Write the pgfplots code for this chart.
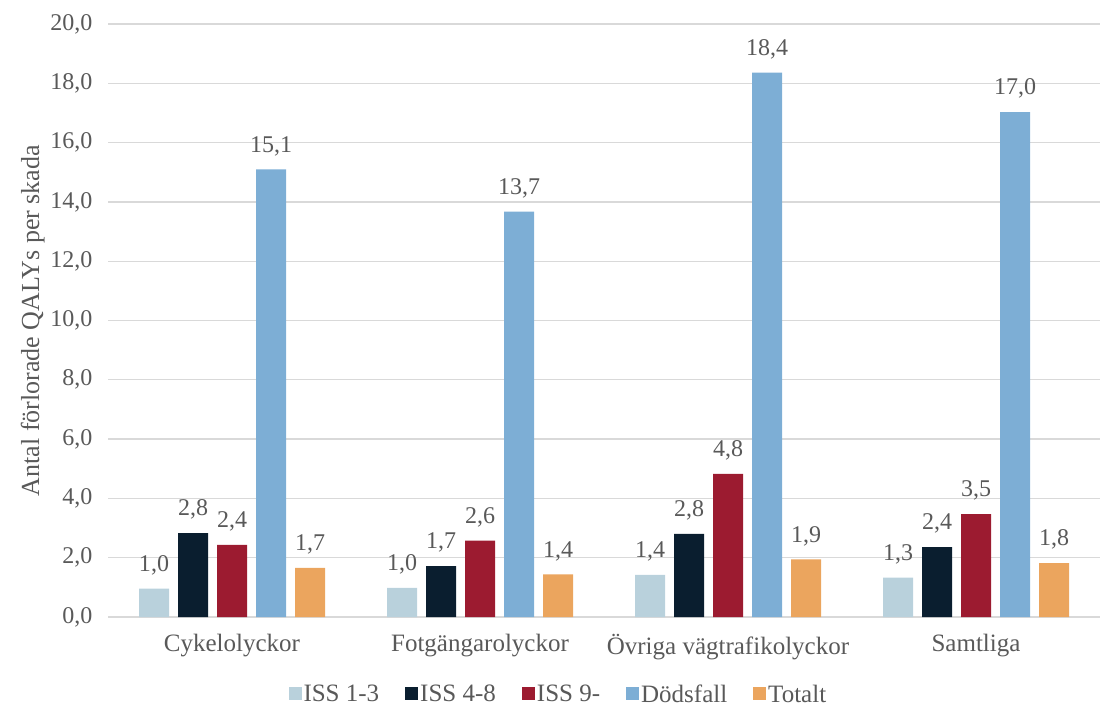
\documentclass[border=0pt]{standalone}
\usepackage{fontspec}
\setmainfont{Liberation Serif}
\usepackage{pgfplots}
\pgfplotsset{compat=1.18}
\definecolor{issA}{HTML}{B9D1DC}
\definecolor{issB}{HTML}{0A1E2F}
\definecolor{issC}{HTML}{9C1B30}
\definecolor{dod}{HTML}{7DAED5}
\definecolor{tot}{HTML}{EBA55E}
\definecolor{txt}{HTML}{595959}
\definecolor{grd}{HTML}{D9D9D9}
\begin{document}
\begin{tikzpicture}
\begin{axis}[
    scale only axis,
    width=992pt, height=593pt,
    ybar=9pt, bar width=30pt,
    xmin=-0.5, xmax=3.5,
    ymin=0, ymax=20,
    ytick distance=2,
    xtick={0,1,2,3},
    xticklabels={Cykelolyckor,Fotgängarolyckor,Övriga vägtrafikolyckor,Samtliga},
    major tick length=0pt,
    axis line style={draw=none},
    ymajorgrids=true,
    grid style={grd, line width=1.3pt},
    /pgf/number format/assume math mode=true,
    /pgf/number format/.cd, fixed, fixed zerofill, precision=1, use comma,
    /pgfplots/.cd,
    ticklabel style={font=\fontsize{24}{28}\selectfont, text=txt},
    yticklabel style={xshift=-12pt},
    xticklabel style={yshift=-14pt, font=\fontsize{25}{28}\selectfont},
    ylabel={Antal förlorade QALYs per skada},
    ylabel style={font=\fontsize{26}{30}\selectfont, text=txt, yshift=-1pt},
    nodes near coords,
    nodes near coords style={font=\fontsize{24}{28}\selectfont, text=txt, yshift=10pt,
        /pgf/number format/.cd, fixed, fixed zerofill, precision=1, use comma, assume math mode=true},
    legend columns=5,
    legend style={at={(0.454,-0.13)}, anchor=center, draw=none,
        font=\fontsize{25}{28}\selectfont, text=txt,
        /tikz/every even column/.append style={column sep=24pt}},
    legend image code/.code={\fill[#1] (0pt,-6pt) rectangle (13pt,7pt);},
]
\addplot[fill=issA, draw=none] coordinates {(0,0.96) (1,0.98) (2,1.42) (3,1.33)};
\addlegendentry{ISS 1-3}
\addplot[fill=issB, draw=none] coordinates {(0,2.83) (1,1.72) (2,2.80) (3,2.36)};
\addlegendentry{ISS 4-8}
\addplot[fill=issC, draw=none] coordinates {(0,2.43) (1,2.58) (2,4.83) (3,3.47)};
\addlegendentry{ISS 9-}
\addplot[fill=dod, draw=none] coordinates {(0,15.10) (1,13.67) (2,18.36) (3,17.03)};
\addlegendentry{Dödsfall}
\addplot[fill=tot, draw=none] coordinates {(0,1.66) (1,1.44) (2,1.94) (3,1.82)};
\addlegendentry{Totalt}
\end{axis}
\path ([xshift=-108pt,yshift=-92pt]current axis.south west) rectangle ([xshift=4pt,yshift=24pt]current axis.north east);
\end{tikzpicture}
\end{document}
